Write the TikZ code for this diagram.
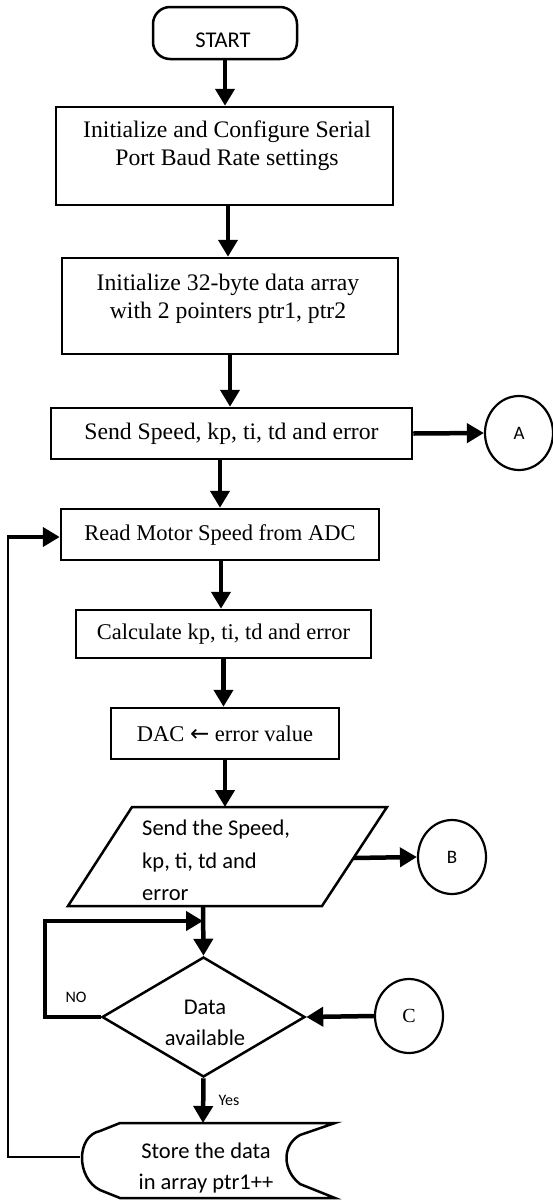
\documentclass[tikz,border=0pt]{standalone}
\usepackage{fontspec}
\setmainfont{Liberation Serif}
\newfontfamily\sansf{Carlito}
\newfontfamily\arrowf{DejaVu Sans}
\usetikzlibrary{arrows.meta,shapes.geometric}
\begin{document}
\begin{tikzpicture}[x=1pt,y=1pt,
  box/.style={draw, line width=2.5pt, inner sep=0pt},
  txt/.style={inner sep=0pt, font=\fontsize{22.5}{28}\selectfont, align=center},
  btxt/.style={inner sep=0pt, font=\fontsize{23.7}{28}\selectfont, align=center},
  stxt/.style={inner sep=0pt, font=\sansf\fontsize{22.5}{31}\selectfont, align=center},
  small/.style={inner sep=0pt, font=\sansf\fontsize{16}{18}\selectfont},
  arr/.style={line width=4.5pt, -{Triangle[width=19pt,length=17pt]}},
  conn/.style={draw, ellipse, line width=2.2pt, inner sep=0pt, minimum width=68pt, minimum height=74pt},
  thinline/.style={line width=2pt},
  loopline/.style={line width=3.5pt}
]
\useasboundingbox (0,0) rectangle (553,-1200);

% START
\node[box, rounded corners=17pt, minimum width=144pt, minimum height=52pt] (st) at (225,-33) {};
\node[stxt] (stt) at (223,-40) {START};

% Box 1
\node[box, minimum width=337pt, minimum height=98pt] (b1) at (224.5,-156) {};
\node[btxt] (b1t) at (227,-146) {Initialize and Configure Serial\\Port Baud Rate settings};

% Box 2
\node[box, minimum width=336pt, minimum height=96pt] (b2) at (230,-306) {};
\node[btxt] (b2t) at (228,-299) {Initialize 32-byte data array\\with 2 pointers ptr1, ptr2};

% Box 3
\node[box, minimum width=361pt, minimum height=51pt, btxt] (b3) at (231.5,-433.5) {Send Speed, kp, ti, td and error};

% A
\node[conn, font=\sansf\fontsize{19}{20}\selectfont] (ca) at (519,-433) {A};

% Box 4
\node[box, minimum width=318pt, minimum height=51pt, txt] (b4) at (220,-534.5) {Read Motor Speed from ADC};

% Box 5
\node[box, minimum width=295pt, minimum height=48pt, txt] (b5) at (223.5,-634) {Calculate kp, ti, td and error};

% Box 6
\node[box, minimum width=228pt, minimum height=51pt, txt] (b6) at (225,-733.5) {DAC {\arrowf\fontsize{23}{24}\selectfont ←} error value};

% Parallelogram
\coordinate (p1) at (132,-807);
\coordinate (p2) at (387,-807);
\coordinate (p3) at (322,-906);
\coordinate (p4) at (68,-906);
\draw[line width=2.5pt, line join=miter] (p1) -- (p2) -- (p3) -- (p4) -- cycle;
\coordinate (ptop) at (225,-807);
\coordinate (pr) at (353.5,-858);
\coordinate (pbot) at (203,-906);
\node[inner sep=0pt, font=\sansf\fontsize{22.5}{32.5}\selectfont, align=left, anchor=north west] (pt) at (142,-820) {Send the Speed,\\kp, ti, td and\\error};

% B
\node[conn, font=\sansf\fontsize{19}{20}\selectfont] (cb) at (452,-857) {B};

% Diamond
\node[draw, diamond, line width=2.5pt, inner sep=0pt, minimum width=203pt, minimum height=120pt] (dia) at (203.5,-1017) {};
\node[stxt] (diat) at (205,-1023) {Data\\available};

% C
\node[conn, font=\fontsize{20}{22}\selectfont] (cc) at (409,-1016) {C};

% NO / Yes labels
\node[small] (nol) at (76,-997) {NO};
\node[small] (yesl) at (229,-1100) {Yes};

% Store shape
\coordinate (s1) at (120,-1123);
\coordinate (s2) at (335,-1123);
\coordinate (s3) at (335,-1198);
\coordinate (s4) at (120,-1198);
\coordinate (sl) at (80,-1157);
\coordinate (stop) at (203,-1123);
\draw[line width=2.5pt] (s1) -- (s2) -- (300,-1135) .. controls (282,-1145) and (282,-1170) .. (300,-1184) -- (s3) -- (s4) -- (100,-1190) .. controls (76,-1178) and (76,-1136) .. (100,-1131) -- cycle;
\node[stxt] (store) at (206,-1167.5) {Store the data\\in array ptr1++};

% Connectors
\draw[arr] (st.south) -- (st.south |- b1.north);
\draw[arr] ([xshift=3.5pt]b1.south) -- ([xshift=3.5pt]b1.south |- b2.north);
\draw[arr] (b2.south) -- (b2.south |- b3.north);
\draw[arr] (b3.east) -- (ca.west);
\draw[arr] ([xshift=-11.5pt]b3.south) -- ([xshift=-11.5pt]b3.south |- b4.north);
\draw[arr] ([xshift=1pt]b4.south) -- ([xshift=1pt]b4.south |- b5.north);
\draw[arr] (b5.south) -- (b5.south |- b6.north);
\draw[arr] (b6.south) -- (ptop);
\draw[arr] (pr) -- (cb.west);
\draw[arr] (pbot) -- (dia.north);
\coordinate (nl) at (45,-921);
\coordinate (nj) at (203,-921);
\draw[loopline] (dia.west) -| (nl);
\draw[arr] ([xshift=-1.75pt]nl) -- (nj);
\draw[arr] (cc.west) -- (dia.east);
\draw[arr] (dia.south) -- (stop);
\coordinate (fb) at (8,-537);
\draw[thinline] (sl) -| (fb);
\draw[arr] ([xshift=-1pt]fb) -- (fb -| b4.west);
\end{tikzpicture}
\end{document}
